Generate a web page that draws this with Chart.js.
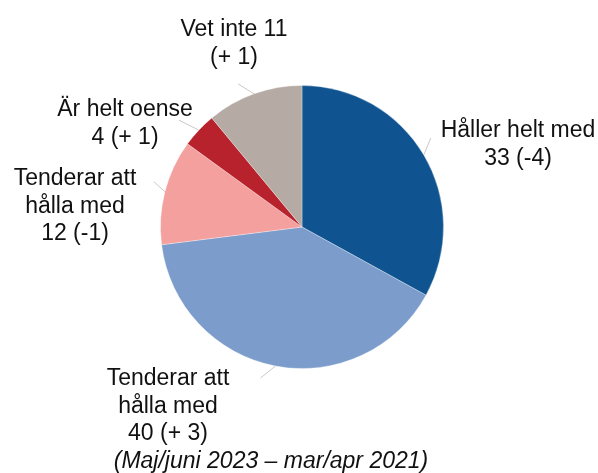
<!DOCTYPE html>
<html>
<head>
<meta charset="utf-8">
<script src="https://cdn.jsdelivr.net/npm/chart.js@4/dist/chart.umd.min.js"></script>
<style>
  body { margin: 0; background: #fff; }
  canvas { display: block; }
</style>
</head>
<body>
<canvas id="pieChart" width="598" height="473"></canvas>
<script>
const categories = ["Håller helt med", "Tenderar att hålla med", "Tenderar att hålla med", "Är helt oense", "Vet inte"];
const values = [33, 40, 12, 4, 11];
const changes = ["(-4)", "(+ 3)", "(-1)", "(+ 1)", "(+ 1)"];
const colors = ["#0f5490", "#7c9dcb", "#f3a09f", "#b8222d", "#b5aaa4"];
const footnote = "(Maj/juni 2023 – mar/apr 2021)";

// how each label is broken into lines ({v} = value, {c} = change)
const labelLines = [
  ["Håller helt med", "{v} {c}"],
  ["Tenderar att", "hålla med", "{v} {c}"],
  ["Tenderar att", "hålla med", "{v} {c}"],
  ["Är helt oense", "{v} {c}"],
  ["Vet inte {v}", "{c}"],
];
// label centre x, first baseline y, leader dx, dy
const labelPos = [
  [518, 137, 7, -17],
  [168, 385, -15, 12],
  [75, 185, -11, -10],
  [125, 116, -20, -10],
  [234, 36, -16, -10],
];

const labelPlugin = {
  id: "pieLabels",
  afterDraw(chart) {
    const ctx = chart.ctx;
    const arcs = chart.getDatasetMeta(0).data;
    ctx.save();
    ctx.strokeStyle = "#c9c9c9";
    ctx.lineWidth = 1;
    arcs.forEach((arc, i) => {
      const mid = (arc.startAngle + arc.endAngle) / 2;
      const sx = arc.x + Math.cos(mid) * arc.outerRadius;
      const sy = arc.y + Math.sin(mid) * arc.outerRadius;
      ctx.beginPath();
      ctx.moveTo(sx, sy);
      ctx.lineTo(sx + labelPos[i][2], sy + labelPos[i][3]);
      ctx.stroke();
    });

    ctx.fillStyle = "#111";
    ctx.font = "23px 'Liberation Sans', Arial, sans-serif";
    ctx.textAlign = "center";
    ctx.textBaseline = "alphabetic";
    labelLines.forEach((lines, i) => {
      lines.forEach((l, j) => {
        const txt = l.replace("{v}", values[i]).replace("{c}", changes[i]);
        ctx.fillText(txt, labelPos[i][0], labelPos[i][1] + j * 27.5);
      });
    });

    ctx.font = "italic 23px 'Liberation Sans', Arial, sans-serif";
    ctx.fillText(footnote, 271, 468);
    ctx.restore();
  },
};

new Chart(document.getElementById("pieChart").getContext("2d"), {
  type: "pie",
  data: {
    labels: categories,
    datasets: [
      {
        data: values,
        backgroundColor: colors,
        borderColor: "rgba(255,255,255,0.3)",
        borderWidth: 1,
        hoverOffset: 0,
      },
    ],
  },
  options: {
    responsive: false,
    animation: false,
    devicePixelRatio: 1,
    layout: { padding: { left: 160, right: 154, top: 85, bottom: 104 } },
    plugins: { legend: { display: false }, tooltip: { enabled: false } },
  },
  plugins: [labelPlugin],
});
</script>
</body>
</html>
